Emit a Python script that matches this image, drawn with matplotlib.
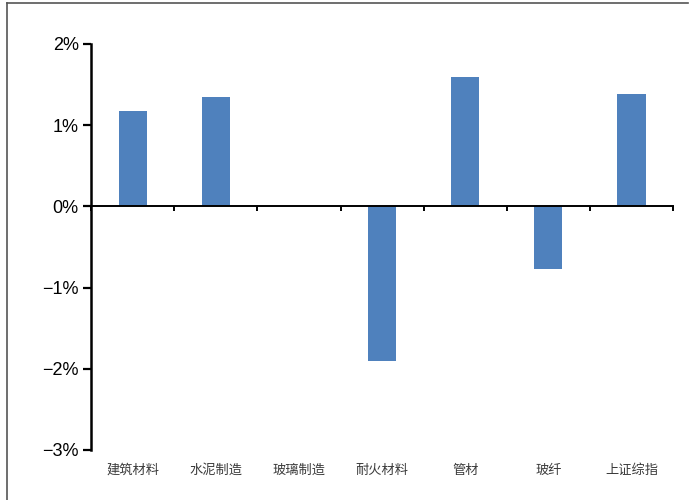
import matplotlib.pyplot as plt
from matplotlib.ticker import FuncFormatter
from matplotlib.lines import Line2D

categories = ['建筑材料', '水泥制造', '玻璃制造', '耐火材料', '管材', '玻纤', '上证综指']
changes = [1.17, 1.35, 0.0, -1.9, 1.59, -0.77, 1.38]  # weekly change, %

plt.rcParams['font.family'] = ['Liberation Sans', 'DejaVu Sans']

fig = plt.figure(figsize=(6.96, 5.0), dpi=100)
ax = fig.add_axes([0.131, 0.1, 0.836, 0.812])

x = list(range(len(categories)))
ax.bar(x, changes, width=0.34, color='#4F81BD', zorder=2)

ax.set_xlim(-0.5, len(categories) - 0.5)
ax.set_ylim(-3, 2)
ax.set_yticks([2, 1, 0, -1, -2, -3])
ax.yaxis.set_major_formatter(FuncFormatter(lambda v, _: f'{v:.0f}%'.replace('-', '\u2212')))
ax.tick_params(axis='y', direction='out', length=6, width=1.6, labelsize=13, pad=3)

for side in ['top', 'right']:
    ax.spines[side].set_visible(False)
ax.spines['left'].set_linewidth(1.8)
ax.spines['bottom'].set_position(('data', 0))
ax.spines['bottom'].set_linewidth(1.4)

# boundary ticks on the zero line, no labels there
ax.set_xticks([i - 0.5 for i in range(len(categories) + 1)])
ax.tick_params(axis='x', direction='out', length=3.5, width=1.4, labelbottom=False)

# category names along the bottom edge
sec = ax.secondary_xaxis('bottom')
sec.set_xticks(x, categories, family=['Noto Sans CJK SC', 'DejaVu Sans'],
               fontsize=9.5, color='#3a3a3a')
sec.tick_params(length=0, pad=10)
sec.spines['bottom'].set_visible(False)

# thin frame lines around the figure
fig.add_artist(Line2D([0.01, 0.01], [0, 0.994], transform=fig.transFigure,
                      color='#555555', lw=1.2))
fig.add_artist(Line2D([0.01, 0.988], [0.994, 0.994], transform=fig.transFigure,
                      color='#555555', lw=1.2))

fig.savefig('out.png', dpi=100)
